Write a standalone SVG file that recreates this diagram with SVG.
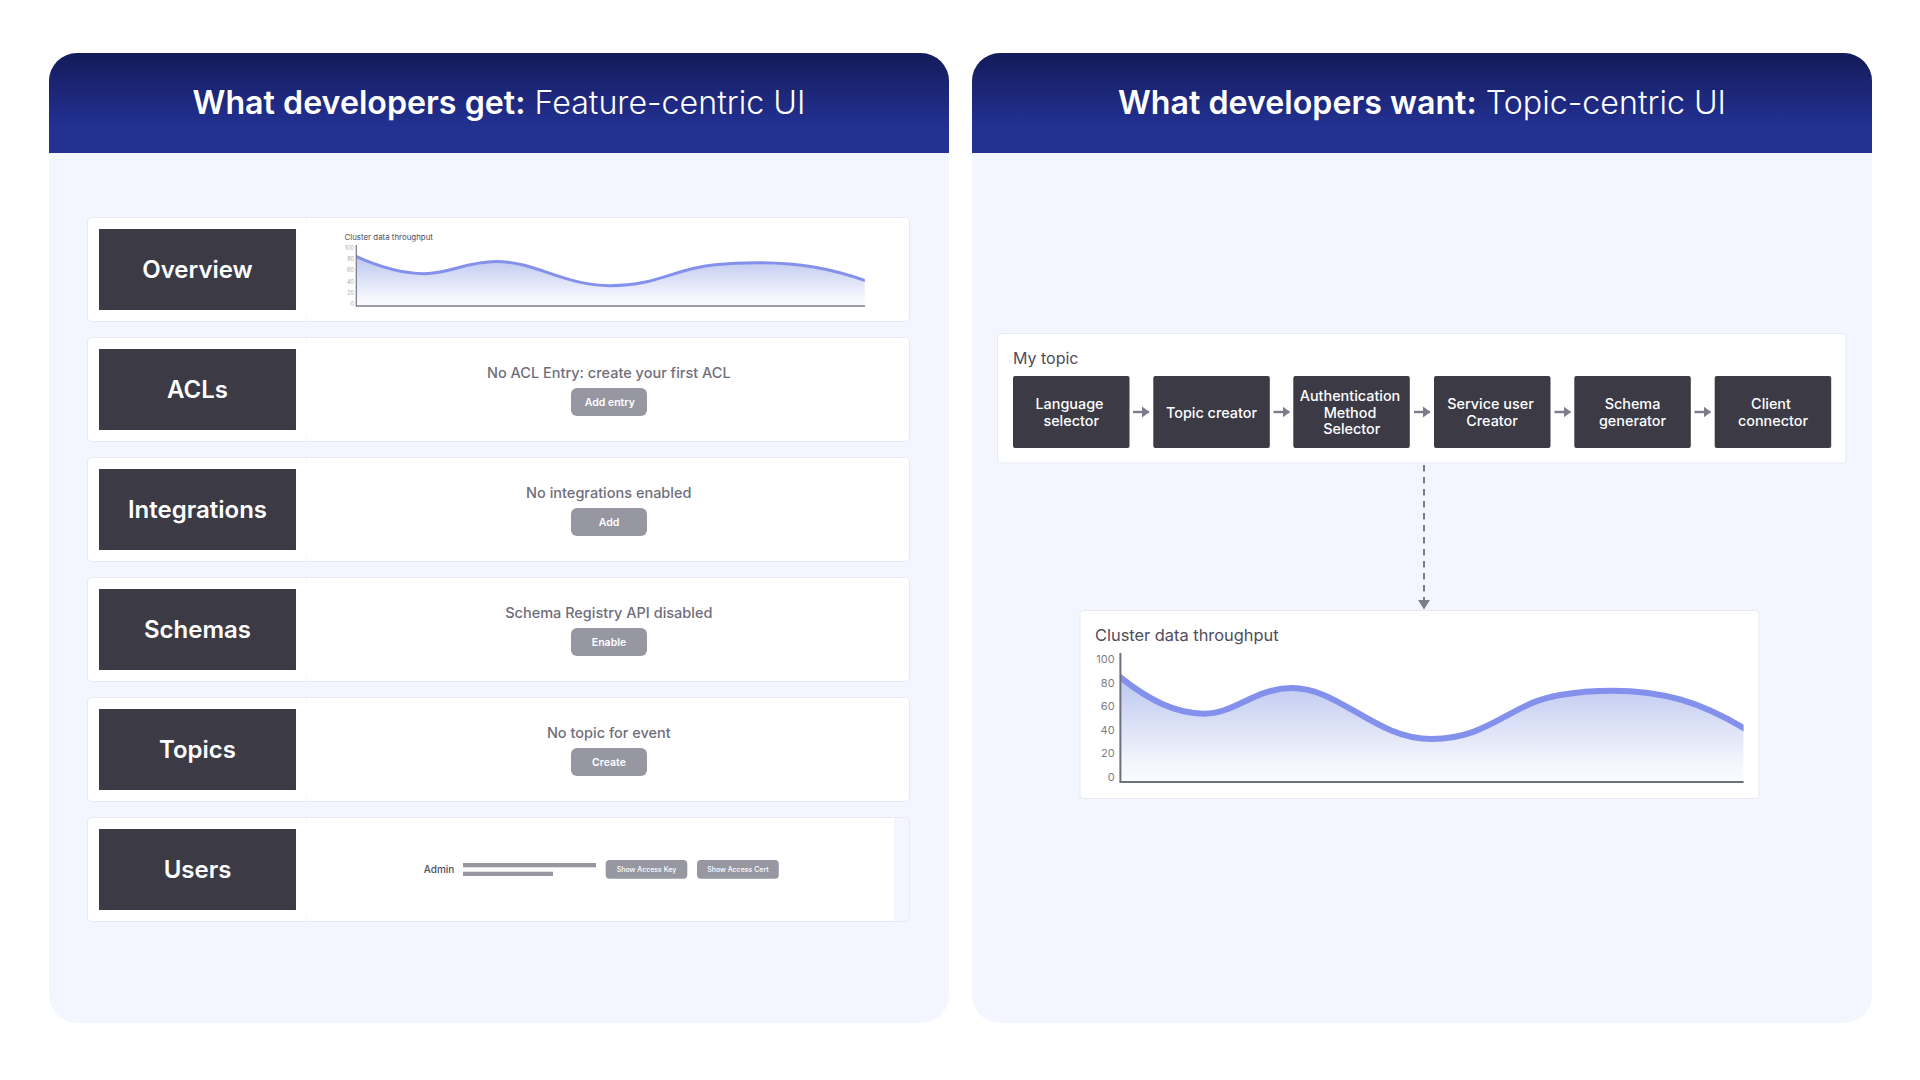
<svg xmlns="http://www.w3.org/2000/svg" width="1920" height="1080" viewBox="0 0 1920 1080">
<style>
text{font-family:"Inter","Liberation Sans",sans-serif}
.card{fill:#fff;stroke:#e8eaf3;stroke-width:1}
.dark{fill:#3b3a45}
.tt{font-size:32.2px;fill:#fff;text-anchor:middle}
.rl{font-size:24px;font-weight:600;fill:#fff;text-anchor:middle}
.msg{font-size:14.5px;font-weight:500;fill:#6f6e7b;text-anchor:middle}
.btn{fill:#9797a2}
.bt{font-size:10.5px;font-weight:600;fill:#fff;text-anchor:middle}
.nt{font-size:14.4px;font-weight:500;fill:#fff;text-anchor:middle}
.tk{font-size:11px;fill:#7d7c88;text-anchor:end}
.tks{font-size:5.5px;fill:#a9a9b3;text-anchor:end}
.bar{fill:#9797a2}
.conn{stroke:#7d7c8a;stroke-width:2.400;fill:none}
.notch{fill:#f6f7ff}
</style>
<defs>
<linearGradient id="hdr" x1="0" y1="0" x2="0" y2="1"><stop offset="0" stop-color="#141b5a"/><stop offset="0.75" stop-color="#233193"/><stop offset="1" stop-color="#233193"/></linearGradient>
<linearGradient id="area" x1="0" y1="0" x2="0" y2="1"><stop offset="0" stop-color="#bcc7ef"/><stop offset="0.85" stop-color="#f6f7fd"/><stop offset="1" stop-color="#fafbfe"/></linearGradient>
<clipPath id="cc"><rect x="1120.4" y="640" width="623.2" height="142"/></clipPath>
<g id="curve" clip-path="url(#cc)">
<path d="M1120.4 677.7C1150 703 1178 713.7 1204 713.7C1235 713.7 1255 688 1292 688C1340 688 1375 739 1431.6 739C1490 739 1510 703 1560 695C1580 691.500 1600 690.700 1612 690.700C1660 690.700 1700 700 1743.6 728V782H1120.4Z" fill="url(#area)"/>
<path d="M1110 669C1150 703 1178 713.7 1204 713.7C1235 713.7 1255 688 1292 688C1340 688 1375 739 1431.6 739C1490 739 1510 703 1560 695C1580 691.500 1600 690.700 1612 690.700C1660 690.700 1700 700 1755 735" fill="none" stroke="#8390ec" vector-effect="non-scaling-stroke"/>
</g>
<marker id="ah" markerUnits="userSpaceOnUse" markerWidth="8" markerHeight="12" refX="7" refY="6" orient="auto"><path d="M0 .5L7.500 6L0 11.500Z" fill="#7d7c8a"/></marker>
<marker id="ad" markerUnits="userSpaceOnUse" markerWidth="13" markerHeight="12" refX="9" refY="6" orient="auto"><path d="M0 0L9.500 6L0 12Z" fill="#7d7c8a"/></marker>
</defs>
<rect width="1920" height="1080" fill="#fff"/>

<g id="panel-left">
<rect x="49" y="53" width="900" height="970" rx="28" fill="#f3f6ff"/>
<path d="M49 153V81a28 28 0 0 1 28-28H921a28 28 0 0 1 28 28V153Z" fill="url(#hdr)"/>
<text class="tt" x="499" y="113.800"><tspan font-weight="600">What developers get:</tspan><tspan font-weight="300"> Feature-centric UI</tspan></text>
</g>
<g id="panel-right">
<rect x="972" y="53" width="900" height="970" rx="28" fill="#f3f6ff"/>
<path d="M972 153V81a28 28 0 0 1 28-28H1844a28 28 0 0 1 28 28V153Z" fill="url(#hdr)"/>
<text class="tt" x="1422" y="113.800"><tspan font-weight="600">What developers want:</tspan><tspan font-weight="300"> Topic-centric UI</tspan></text>
</g>

<g id="row-overview">
<rect class="card" x="87.500" y="217.500" width="822" height="104" rx="4"/>
<path class="notch" d="M306.500 218L308 223H305ZM306.500 321L308 316H305Z"/>
<rect class="dark" x="99" y="229" width="197" height="81"/>
<text class="rl" x="197.500" y="278">Overview</text>
<text x="344.500" y="240" font-size="7.900" fill="#4e4d59">Cluster data throughput</text>
<use href="#curve" stroke-width="3" transform="matrix(.816 0 0 .473 -557.95 -63.89)"/>
<path d="M356.300 245V306H865" fill="none" stroke="#7d7c8a" stroke-width="1.300"/>
<text class="tks" x="354" y="250">100</text><text class="tks" x="354" y="261">80</text><text class="tks" x="354" y="272">60</text><text class="tks" x="354" y="283.500">40</text><text class="tks" x="354" y="294.500">20</text><text class="tks" x="354" y="305.500">0</text>
</g>
<g id="row-acls">
<rect class="card" x="87.500" y="337.500" width="822" height="104" rx="4"/>
<path class="notch" d="M306.500 338L308 343H305ZM306.500 441L308 436H305Z"/>
<rect class="dark" x="99" y="349" width="197" height="81"/>
<text class="rl" x="197.500" y="398">ACLs</text>
<text class="msg" x="608.800" y="377.500">No ACL Entry: create your first ACL</text>
<rect class="btn" x="571" y="388" width="76" height="28" rx="6"/>
<text class="bt" x="609.800" y="405.700">Add entry</text>
</g>
<g id="row-integrations">
<rect class="card" x="87.500" y="457.500" width="822" height="104" rx="4"/>
<path class="notch" d="M306.500 458L308 463H305ZM306.500 561L308 556H305Z"/>
<rect class="dark" x="99" y="469" width="197" height="81"/>
<text class="rl" x="197.500" y="518">Integrations</text>
<text class="msg" x="608.800" y="497.500">No integrations enabled</text>
<rect class="btn" x="571" y="508" width="76" height="28" rx="6"/>
<text class="bt" x="609" y="525.700">Add</text>
</g>
<g id="row-schemas">
<rect class="card" x="87.500" y="577.500" width="822" height="104" rx="4"/>
<path class="notch" d="M306.500 578L308 583H305ZM306.500 681L308 676H305Z"/>
<rect class="dark" x="99" y="589" width="197" height="81"/>
<text class="rl" x="197.500" y="638">Schemas</text>
<text class="msg" x="608.800" y="617.500">Schema Registry API disabled</text>
<rect class="btn" x="571" y="628" width="76" height="28" rx="6"/>
<text class="bt" x="609" y="645.700">Enable</text>
</g>
<g id="row-topics">
<rect class="card" x="87.500" y="697.500" width="822" height="104" rx="4"/>
<path class="notch" d="M306.500 698L308 703H305ZM306.500 801L308 796H305Z"/>
<rect class="dark" x="99" y="709" width="197" height="81"/>
<text class="rl" x="197.500" y="758">Topics</text>
<text class="msg" x="608.800" y="737.500">No topic for event</text>
<rect class="btn" x="571" y="748" width="76" height="28" rx="6"/>
<text class="bt" x="609" y="765.700">Create</text>
</g>
<g id="row-users">
<rect class="card" x="87.500" y="817.500" width="822" height="104" rx="4" style="fill:#f3f6ff"/>
<path d="M92 818H894V921H92a4 4 0 0 1-4-4V822a4 4 0 0 1 4-4Z" fill="#fff"/>
<path class="notch" d="M306.500 818L308 823H305ZM306.500 921L308 916H305Z"/>
<rect class="dark" x="99" y="829" width="197" height="81"/>
<text class="rl" x="197.500" y="878">Users</text>
<text x="423.700" y="872.500" font-size="10" font-weight="500" fill="#4e4d59">Admin</text>
<rect class="bar" x="463" y="863" width="133" height="4.300"/>
<rect class="bar" x="463" y="871.700" width="90" height="4.300"/>
<rect class="btn" x="605.700" y="860" width="81.600" height="18.700" rx="4"/>
<text x="646.500" y="872" font-size="7" font-weight="500" fill="#fff" text-anchor="middle">Show Access Key</text>
<rect class="btn" x="697" y="860" width="81.800" height="18.700" rx="4"/>
<text x="737.900" y="872" font-size="7" font-weight="500" fill="#fff" text-anchor="middle">Show Access Cert</text>
</g>

<g id="my-topic">
<rect class="card" x="997.500" y="333.500" width="848.500" height="129.500" rx="3"/>
<text x="1013" y="364" font-size="16" fill="#4e4d59">My topic</text>
</g>
<g id="node-language"><rect class="dark" x="1013" y="376" width="116.500" height="72" rx="2"/><text class="nt" x="1069.500" y="409">Language</text><text class="nt" x="1071.200" y="426">selector</text></g>
<g id="node-topic"><rect class="dark" x="1153.300" y="376" width="116.500" height="72" rx="2"/><text class="nt" x="1211.500" y="417.500">Topic creator</text></g>
<g id="node-auth"><rect class="dark" x="1293.300" y="376" width="116.500" height="72" rx="2"/><text class="nt" x="1350" y="400.700">Authentication</text><text class="nt" x="1350" y="417.500">Method</text><text class="nt" x="1351.800" y="434.300">Selector</text></g>
<g id="node-service"><rect class="dark" x="1434" y="376" width="116.500" height="72" rx="2"/><text class="nt" x="1490.500" y="409">Service user</text><text class="nt" x="1492" y="426">Creator</text></g>
<g id="node-schema"><rect class="dark" x="1574.300" y="376" width="116.500" height="72" rx="2"/><text class="nt" x="1632.500" y="409">Schema</text><text class="nt" x="1632.500" y="426">generator</text></g>
<g id="node-client"><rect class="dark" x="1714.700" y="376" width="116.500" height="72" rx="2"/><text class="nt" x="1771" y="409">Client</text><text class="nt" x="1773" y="426">connector</text></g>

<g id="connectors">
<path class="conn" marker-end="url(#ah)" d="M1133 412H1149"/>
<path class="conn" marker-end="url(#ah)" d="M1273.500 412H1289.500"/>
<path class="conn" marker-end="url(#ah)" d="M1414 412H1430"/>
<path class="conn" marker-end="url(#ah)" d="M1554.500 412H1570.500"/>
<path class="conn" marker-end="url(#ah)" d="M1694.500 412H1710.500"/>
<path class="conn" style="stroke-width:2" marker-end="url(#ad)" stroke-dasharray="6.500 5.500" d="M1424 465V609"/>
</g>

<g id="chart-card">
<rect class="card" x="1080" y="610.500" width="679" height="188" rx="3"/>
<text x="1095" y="641" font-size="16.400" fill="#4e4d59">Cluster data throughput</text>
<use href="#curve" stroke-width="6"/>
<path d="M1120.400 653V782H1743.600" fill="none" stroke="#6f6e7b" stroke-width="2"/>
<text class="tk" x="1114.600" y="663">100</text><text class="tk" x="1114.600" y="686.500">80</text><text class="tk" x="1114.600" y="710">60</text><text class="tk" x="1114.600" y="733.500">40</text><text class="tk" x="1114.600" y="757">20</text><text class="tk" x="1114.600" y="781">0</text>
</g>
</svg>
